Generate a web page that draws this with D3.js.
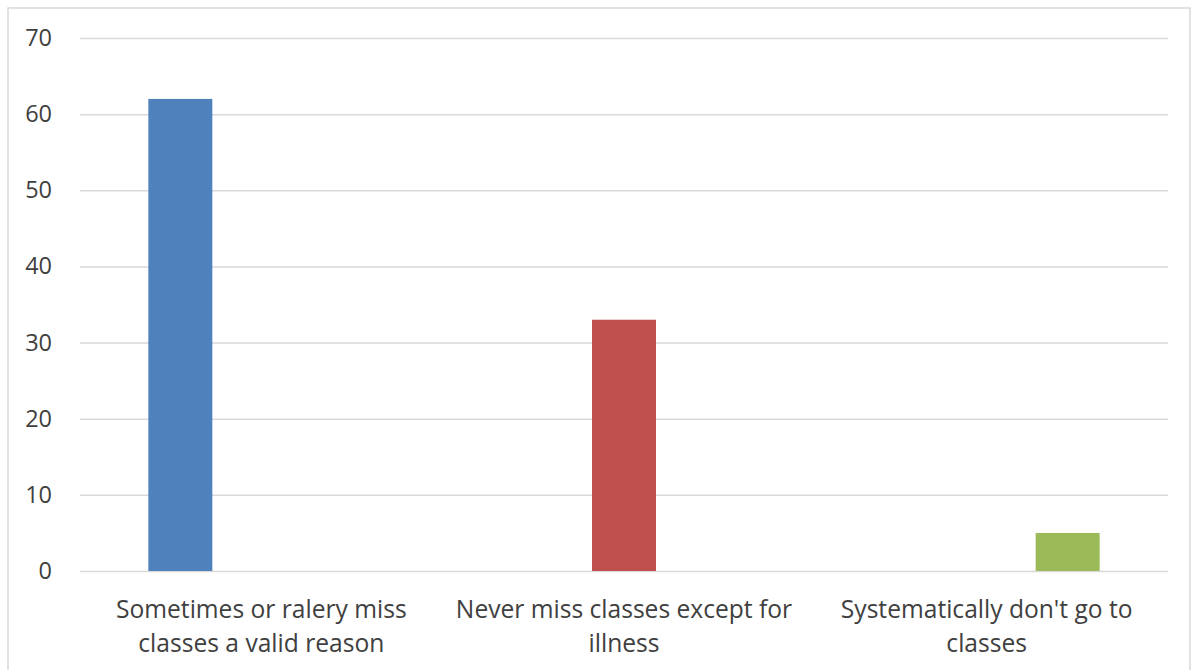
<!DOCTYPE html>
<html><head><meta charset="utf-8">
<script src="https://cdn.jsdelivr.net/npm/d3@7"></script>
<style>
html,body{margin:0;padding:0;background:#fff;}
svg{display:block;}
text{font-family:"Open Sans","Noto Sans",sans-serif;fill:#404040;}
</style></head>
<body>
<svg id="chart" width="1192" height="670"></svg>
<script>
const categories = [
  ["Sometimes or ralery miss", "classes a valid reason"],
  ["Never miss classes except for", "illness"],
  ["Systematically don't go to", "classes"]
];
const seriesNames = ["Series1", "Series2", "Series3"];
const seriesColors = ["#4f81bd", "#c0504d", "#9bbb59"];
const series1 = [62, 0, 0];
const series2 = [0, 33, 0];
const series3 = [0, 0, 5];
const yTicks = [0, 10, 20, 30, 40, 50, 60, 70];

(function () {
const allSeries = [series1, series2, series3];
const svg = d3.select("#chart");
const FONT = '"Open Sans","Noto Sans",sans-serif';

// outer border
svg.append("rect").attr("x", 8).attr("y", 8).attr("width", 1182).attr("height", 670)
  .attr("fill", "none").attr("stroke", "#d9d9d9").attr("stroke-width", 1.5);

const mLeft = 80, mRight = 1168, mTop = 38, mBottom = 571;
const catIdx = categories.map((d, i) => i);
const x = d3.scaleBand().domain(catIdx).range([mLeft, mRight]).padding(0);
const bw = x.bandwidth();
const x1 = d3.scaleBand().domain(seriesNames).range([bw * 0.165, bw * 0.835])
  .paddingInner(0.21).paddingOuter(0.105);
const y = d3.scaleLinear().domain([0, 70]).range([mBottom, mTop]);

// gridlines
const yAxis = d3.axisLeft(y).tickValues(yTicks).tickSize(-(mRight - mLeft)).tickPadding(28).tickFormat(d3.format("d"));
const gy = svg.append("g").attr("transform", `translate(${mLeft},0)`).call(yAxis);
gy.select(".domain").remove();
gy.selectAll(".tick line").attr("stroke", "#d9d9d9").attr("stroke-width", 1.5);
gy.selectAll(".tick text").attr("font-size", 23.5).style("fill", "#404040")
  .attr("font-family", FONT);

// bars
allSeries.forEach((vals, si) => {
  svg.append("g").selectAll("rect").data(vals).join("rect")
    .attr("x", (d, i) => x(i) + x1(seriesNames[si]))
    .attr("width", x1.bandwidth())
    .attr("y", d => y(d))
    .attr("height", d => y(0) - y(d))
    .attr("fill", seriesColors[si]);
});

// category labels
const xAxis = d3.axisBottom(x).tickSize(0).tickFormat(() => "");
const gx = svg.append("g").attr("transform", `translate(0,${mBottom})`).call(xAxis);
gx.select(".domain").remove();
gx.selectAll(".tick").each(function(d) {
  const t = d3.select(this).append("text").attr("text-anchor", "middle")
    .attr("font-size", 24.6).attr("font-family", FONT).style("fill", "#404040");
  categories[d].forEach((line, li) => {
    t.append("tspan").attr("x", 0).attr("y", 47 + li * 34).text(line);
  });
});
})();
</script>
</body></html>
